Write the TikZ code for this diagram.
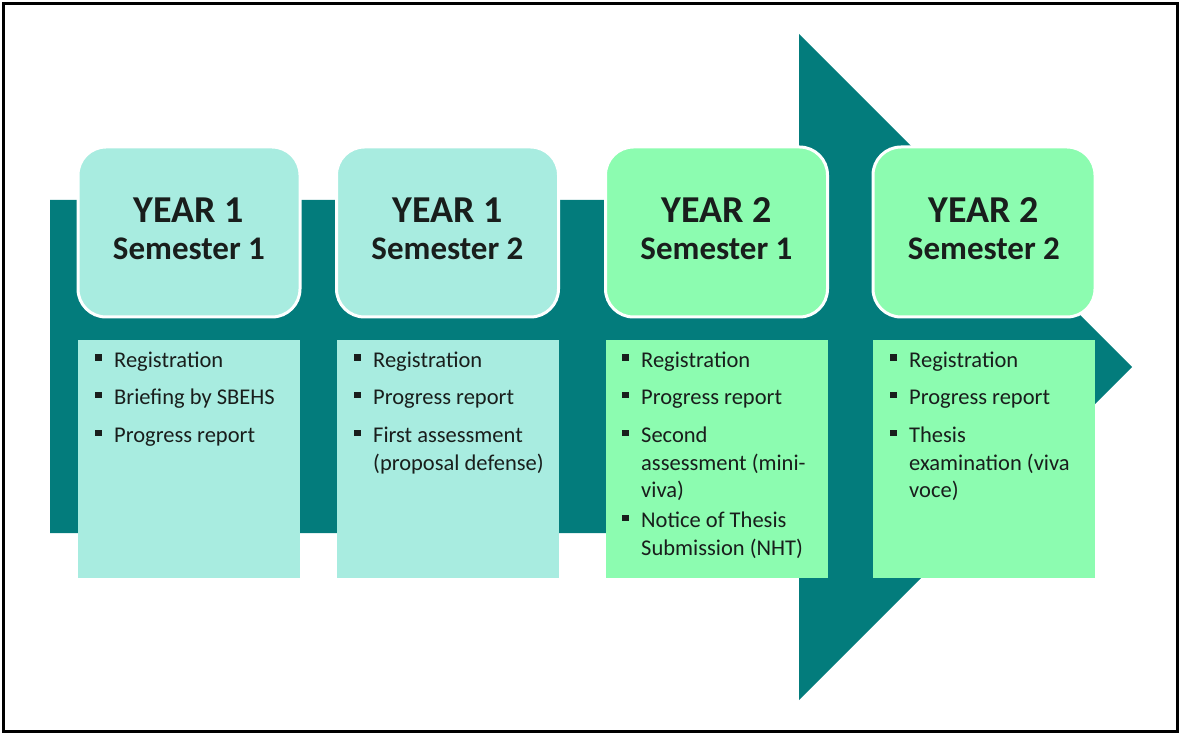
\documentclass[tikz,border=0pt]{standalone}
\usepackage{fontspec}
\setmainfont{Carlito}
\definecolor{teal}{RGB}{3,124,124}
\definecolor{turq}{RGB}{168,236,224}
\definecolor{mint}{RGB}{140,252,176}
\definecolor{ink}{RGB}{25,30,28}
\tikzset{
  headbox/.style={draw=white, line width=3pt, rounded corners=28pt,
    minimum width=222pt, minimum height=170pt, inner sep=0pt},
  listbox/.style={minimum width=222pt, minimum height=238pt, inner sep=0pt},
  yeartxt/.style={anchor=base, inner sep=0pt, text=ink,
    font=\fontsize{38}{42}\selectfont\bfseries},
  semtxt/.style={anchor=base, inner sep=0pt, text=ink,
    font=\fontsize{33}{38}\selectfont\bfseries},
  itemtxt/.style={anchor=base west, inner sep=0pt, text=ink,
    font=\fontsize{22.5}{28}\selectfont},
}
% one line of a bulleted list: left edge of box, baseline, text
\newcommand{\bulline}[3]{%
  \fill[ink] (#1+17,#2-12.5) rectangle (#1+23.5,#2-6);
  \node[itemtxt] at (#1+36,#2) {#3};}
% continuation line of a wrapped item
\newcommand{\contline}[3]{%
  \node[itemtxt] at (#1+36,#2) {#3};}
\begin{document}
\begin{tikzpicture}[x=1pt,y=-1pt]
\useasboundingbox (0,0) rectangle (1181,735);
% frame
\draw[line width=3pt] (3.5,3.5) rectangle (1177.5,731.5);
% timeline arrow
\fill[teal] (50,200) -- (799,200) -- (799,34) -- (1132,367) -- (799,700)
  -- (799,533) -- (50,533) -- cycle;
% semester heading boxes
\node[headbox, fill=turq] (h1) at (189,232) {};
\node[headbox, fill=turq] (h2) at (447.5,232) {};
\node[headbox, fill=mint] (h3) at (716.5,232) {};
\node[headbox, fill=mint] (h4) at (984,232) {};
% activity boxes
\node[listbox, fill=turq] (b1) at (189,459) {};
\node[listbox, fill=turq] (b2) at (447.5,459) {};
\node[listbox, fill=mint] (b3) at (716.5,459) {};
\node[listbox, fill=mint] (b4) at (984,459) {};
% headings
\node[yeartxt] (y1) at (189,223) {YEAR 1};
\node[semtxt] (s1) at (189,260) {Semester 1};
\node[yeartxt] (y2) at (447.5,223) {YEAR 1};
\node[semtxt] (s2) at (447.5,260) {Semester 2};
\node[yeartxt] (y3) at (716.5,223) {YEAR 2};
\node[semtxt] (s3) at (716.5,260) {Semester 1};
\node[yeartxt] (y4) at (984,223) {YEAR 2};
\node[semtxt] (s4) at (984,260) {Semester 2};
% lists
\bulline{78}{367}{Registration}
\bulline{78}{404}{Briefing by SBEHS}
\bulline{78}{442}{Progress report}
\bulline{337}{367}{Registration}
\bulline{337}{404}{Progress report}
\bulline{337}{442}{First assessment}
\contline{337}{470}{(proposal defense)}
\bulline{605}{367}{Registration}
\bulline{605}{404}{Progress report}
\bulline{605}{442}{Second}
\contline{605}{470}{assessment (mini-}
\contline{605}{497}{viva)}
\bulline{605}{527}{Notice of Thesis}
\contline{605}{555}{Submission (NHT)}
\bulline{873}{367}{Registration}
\bulline{873}{404}{Progress report}
\bulline{873}{442}{Thesis}
\contline{873}{470}{examination (viva}
\contline{873}{497}{voce)}
\end{tikzpicture}
\end{document}
